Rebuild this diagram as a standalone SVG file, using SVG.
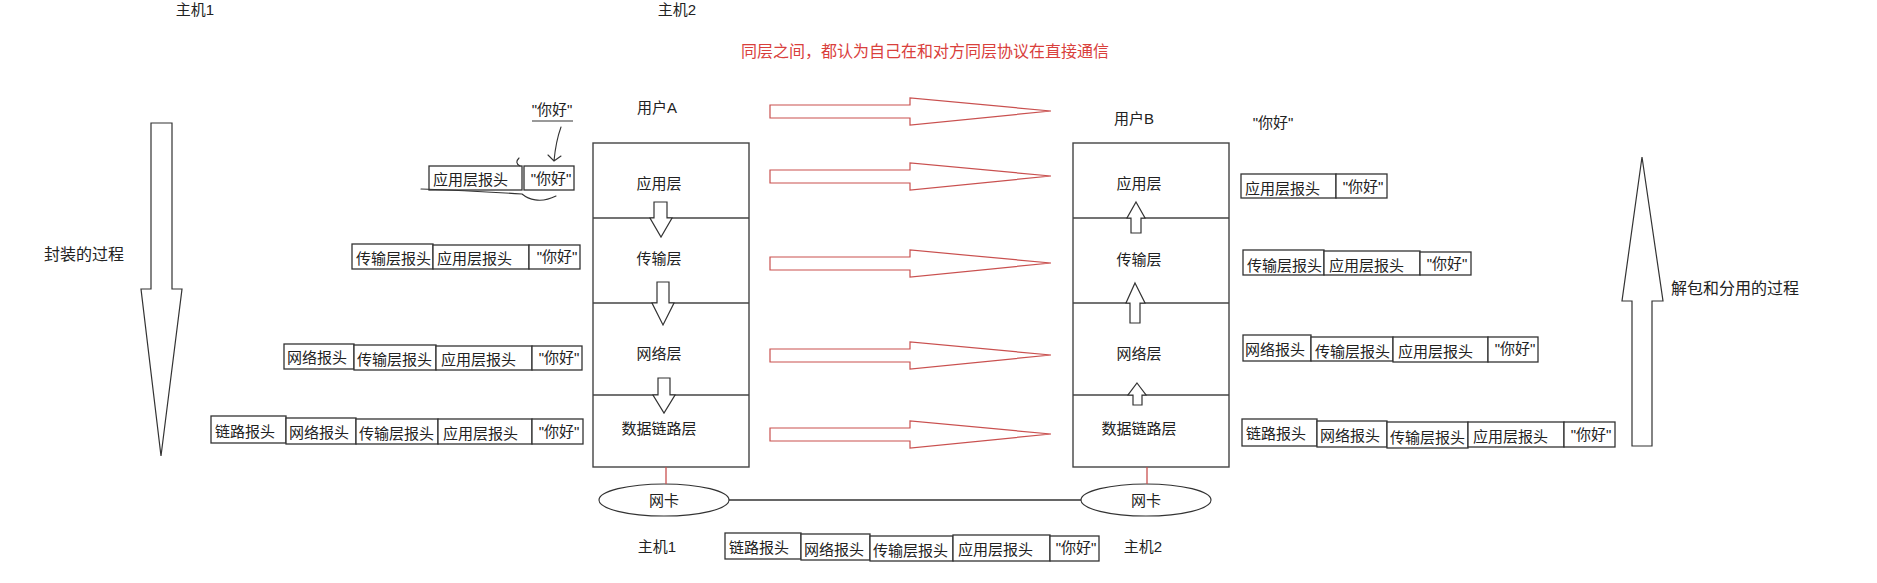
<svg xmlns="http://www.w3.org/2000/svg" width="1877" height="583" viewBox="0 0 1877 583">
<style>
text{font-family:"Liberation Sans","Noto Sans CJK SC",sans-serif;font-size:15px;fill:#222}
.c{text-anchor:middle;dominant-baseline:central}
.s{text-anchor:start;dominant-baseline:central}
.box{fill:#fff;stroke:#333;stroke-width:1.3}
.stack{fill:#fff;stroke:#444;stroke-width:1.4}
.div{stroke:#444;stroke-width:1.3}
.hol{fill:#fff;stroke:#333;stroke-width:1.2;stroke-linejoin:miter}
.red{fill:#fff;stroke:#c9504f;stroke-width:1.2}
.redl{stroke:#c9504f;stroke-width:1.3}
.hand{fill:none;stroke:#333;stroke-width:1.1;stroke-linecap:round}
.rt{fill:#d9403c;font-size:16px}
</style>
<defs>
<path id="redArrow" class="red" d="M0,-6 H140 V-13 L281,0 L140,14 V7 H0 Z"/>
</defs>

<g id="titles">
<text class="c" x="195" y="9">主机1</text>
<text class="c" x="677" y="9">主机2</text>
<text class="c rt" x="925" y="51">同层之间，都认为自己在和对方同层协议在直接通信</text>
</g>

<g id="encap-arrow">
<polygon class="hol" points="151,123 172,123 172,289 182,289 161,456 141,289 151,289"/>
<text class="c" x="84" y="254" style="font-size:16px">封装的过程</text>
</g>

<g id="decap-arrow">
<polygon class="hol" points="1642,157 1663,301 1652,301 1652,446 1632,446 1632,301 1622,301"/>
<text class="c" x="1735" y="288" style="font-size:16px">解包和分用的过程</text>
</g>

<g id="userA">
<text class="c" x="657" y="107">用户A</text>
</g>
<g id="userB">
<text class="c" x="1134" y="118">用户B</text>
</g>

<g id="data-top-left">
<text class="c" x="552" y="109">"你好"</text>
<line x1="532" y1="121" x2="573" y2="121" stroke="#777" stroke-width="1.3"/>
<path class="hand" d="M561,127 C557,138 555,150 554,161 M548,155 L554,161 L561,156"/>
</g>
<g id="data-top-right">
<text class="c" x="1273" y="122">"你好"</text>
</g>

<g id="stackA">
<rect class="stack" x="593" y="143" width="156" height="324"/>
<line class="div" x1="593" y1="218" x2="749" y2="218"/>
<line class="div" x1="593" y1="303" x2="749" y2="303"/>
<line class="div" x1="593" y1="395" x2="749" y2="395"/>
<text class="c" x="659" y="183">应用层</text>
<text class="c" x="659" y="258">传输层</text>
<text class="c" x="659" y="353">网络层</text>
<text class="c" x="659" y="428">数据链路层</text>
<polygon class="hol" points="654,202 667,202 667,218 672,218 661,237 650,218 654,218"/>
<polygon class="hol" points="657,282 669,282 669,303 674,303 663,325 652,303 657,303"/>
<polygon class="hol" points="658,378 670,378 670,395 675,395 664,413 653,395 658,395"/>
</g>

<g id="stackB">
<rect class="stack" x="1073" y="143" width="156" height="324"/>
<line class="div" x1="1073" y1="218" x2="1229" y2="218"/>
<line class="div" x1="1073" y1="303" x2="1229" y2="303"/>
<line class="div" x1="1073" y1="395" x2="1229" y2="395"/>
<text class="c" x="1139" y="183">应用层</text>
<text class="c" x="1139" y="259">传输层</text>
<text class="c" x="1139" y="353">网络层</text>
<text class="c" x="1139" y="428">数据链路层</text>
<polygon class="hol" points="1136,202 1145,218 1141,218 1141,233 1131,233 1131,218 1127,218"/>
<polygon class="hol" points="1135,283 1145,303 1140,303 1140,323 1130,323 1130,303 1126,303"/>
<polygon class="hol" points="1137,383 1146,395 1142,395 1142,405 1133,405 1133,395 1128,395"/>
</g>

<g id="nicA">
<ellipse cx="664" cy="500" rx="65" ry="16" fill="#fff" stroke="#333" stroke-width="1.2"/>
<text class="c" x="664" y="500">网卡</text>
<text class="c" x="657" y="546">主机1</text>
</g>
<g id="nicB">
<ellipse cx="1146" cy="500" rx="65" ry="16" fill="#fff" stroke="#333" stroke-width="1.2"/>
<text class="c" x="1146" y="500">网卡</text>
<text class="c" x="1143" y="546">主机2</text>
</g>

<g id="connectors">
<use href="#redArrow" x="770" y="111"/>
<use href="#redArrow" x="770" y="176"/>
<use href="#redArrow" x="770" y="263"/>
<use href="#redArrow" x="770" y="355"/>
<use href="#redArrow" x="770" y="434"/>
<line class="redl" x1="666" y1="467" x2="666" y2="484"/>
<line class="redl" x1="1147" y1="467" x2="1147" y2="484"/>
<line x1="729" y1="500" x2="1081" y2="500" stroke="#333" stroke-width="1.3"/>
</g>

<g id="left-row1">
<rect class="box" x="429" y="166" width="93" height="24"/><text class="s" x="433" y="179">应用层报头</text>
<rect class="box" x="524" y="166" width="50" height="24"/><text class="c" x="551" y="178">"你好"</text>
<path class="hand" d="M421,189 C450,190 490,192 522,194 M522,194 C528,199 540,204 556,196 M519,158 C516,161 516,164 520,166"/>
</g>
<g id="left-row2">
<rect class="box" x="352" y="244" width="81" height="25"/><text class="s" x="356" y="258">传输层报头</text>
<rect class="box" x="433" y="245" width="96" height="24"/><text class="s" x="437" y="258">应用层报头</text>
<rect class="box" x="529" y="245" width="51" height="24"/><text class="c" x="557" y="256">"你好"</text>
</g>
<g id="left-row3">
<rect class="box" x="284" y="344" width="70" height="25"/><text class="s" x="287" y="357">网络报头</text>
<rect class="box" x="354" y="345" width="82" height="25"/><text class="s" x="357" y="359">传输层报头</text>
<rect class="box" x="436" y="346" width="96" height="24"/><text class="s" x="441" y="359">应用层报头</text>
<rect class="box" x="532" y="346" width="50" height="24"/><text class="c" x="559" y="357">"你好"</text>
</g>
<g id="left-row4">
<rect class="box" x="211" y="416" width="75" height="27"/><text class="s" x="215" y="431">链路报头</text>
<rect class="box" x="286" y="418" width="70" height="26"/><text class="s" x="289" y="432">网络报头</text>
<rect class="box" x="356" y="419" width="82" height="25"/><text class="s" x="359" y="433">传输层报头</text>
<rect class="box" x="438" y="419" width="94" height="25"/><text class="s" x="443" y="433">应用层报头</text>
<rect class="box" x="532" y="419" width="51" height="25"/><text class="c" x="559" y="431">"你好"</text>
</g>

<g id="right-row1">
<rect class="box" x="1241" y="174" width="95" height="24"/><text class="s" x="1245" y="188">应用层报头</text>
<rect class="box" x="1336" y="174" width="51" height="24"/><text class="c" x="1363" y="186">"你好"</text>
</g>
<g id="right-row2">
<rect class="box" x="1243" y="250" width="81" height="25"/><text class="s" x="1247" y="265">传输层报头</text>
<rect class="box" x="1324" y="251" width="96" height="24"/><text class="s" x="1329" y="265">应用层报头</text>
<rect class="box" x="1420" y="252" width="51" height="23"/><text class="c" x="1447" y="263">"你好"</text>
</g>
<g id="right-row3">
<rect class="box" x="1243" y="335" width="68" height="26"/><text class="s" x="1245" y="349">网络报头</text>
<rect class="box" x="1311" y="337" width="82" height="24"/><text class="s" x="1315" y="351">传输层报头</text>
<rect class="box" x="1393" y="337" width="95" height="25"/><text class="s" x="1398" y="351">应用层报头</text>
<rect class="box" x="1488" y="337" width="50" height="25"/><text class="c" x="1515" y="348">"你好"</text>
</g>
<g id="right-row4">
<rect class="box" x="1242" y="419" width="75" height="27"/><text class="s" x="1246" y="433">链路报头</text>
<rect class="box" x="1317" y="421" width="70" height="26"/><text class="s" x="1320" y="435">网络报头</text>
<rect class="box" x="1387" y="422" width="81" height="26"/><text class="s" x="1390" y="437">传输层报头</text>
<rect class="box" x="1468" y="422" width="96" height="25"/><text class="s" x="1473" y="436">应用层报头</text>
<rect class="box" x="1564" y="422" width="51" height="25"/><text class="c" x="1591" y="434">"你好"</text>
</g>

<g id="bottom-row">
<rect class="box" x="725" y="533" width="76" height="26"/><text class="s" x="729" y="547">链路报头</text>
<rect class="box" x="801" y="534" width="69" height="26"/><text class="s" x="804" y="549">网络报头</text>
<rect class="box" x="870" y="536" width="83" height="25"/><text class="s" x="873" y="550">传输层报头</text>
<rect class="box" x="953" y="535" width="97" height="26"/><text class="s" x="958" y="549">应用层报头</text>
<rect class="box" x="1050" y="536" width="49" height="25"/><text class="c" x="1076" y="547">"你好"</text>
</g>
</svg>
